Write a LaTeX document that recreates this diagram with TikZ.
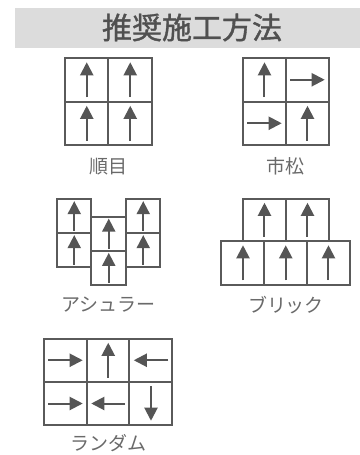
\documentclass[tikz,border=0pt]{standalone}
\usepackage{fontspec}
\newfontfamily\cjk{Noto Sans CJK JP}
\newfontfamily\cjktitle{Noto Sans CJK JP}[FakeBold=1.2]
\usetikzlibrary{arrows.meta,fit}
\definecolor{barbg}{HTML}{DCDCDC}
\definecolor{titlec}{HTML}{505050}
\definecolor{linec}{HTML}{5A5A5A}
\definecolor{arrc}{HTML}{555555}
\definecolor{labc}{HTML}{6A6A6A}
\tikzset{
  tilebox/.style={draw=linec, line width=1.5pt, inner sep=0pt, outer sep=0pt},
  tilearrow/.style={draw=arrc, line width=1.5pt, -{Triangle[width=9.75pt,length=9.75pt]}, fill=arrc},
  caption/.style={text=labc, font=\cjk\fontsize{14.25pt}{16pt}\selectfont, inner sep=0pt},
  titletext/.style={text=titlec, font=\cjktitle\fontsize{22.5pt}{24pt}\selectfont, inner sep=0pt}
}
\newcommand\tile[5]{\node[tilebox, fit={(#2,#3) (#4,#5)}] (#1) {};}
\newcommand\arrU[2]{\draw[tilearrow] ([yshift=#2]#1.south) -- ([yshift=-#2]#1.north);}
\newcommand\arrD[2]{\draw[tilearrow] ([yshift=-#2]#1.north) -- ([yshift=#2]#1.south);}
\newcommand\arrR[2]{\draw[tilearrow] ([xshift=#2]#1.west) -- ([xshift=-#2]#1.east);}
\newcommand\arrL[2]{\draw[tilearrow] ([xshift=-#2]#1.east) -- ([xshift=#2]#1.west);}
\begin{document}
\begin{tikzpicture}[x=0.75pt,y=-0.75pt]
\useasboundingbox (0,0) rectangle (360,455);
% header
\fill[barbg] (15,8) rectangle (360,47.5);
\node[titletext] (title) at (192,27.5) {推奨施工方法};
% grid 1: 順目
\tile{a1}{65}{58}{108.5}{101.5}
\tile{a2}{108.5}{58}{152}{101.5}
\tile{a3}{65}{101.5}{108.5}{145}
\tile{a4}{108.5}{101.5}{152}{145}
\arrU{a1}{3.2pt}\arrU{a2}{3.2pt}\arrU{a3}{3.2pt}\arrU{a4}{3.2pt}
\node[caption] (l1) at (108.5,166.5) {順目};
% grid 2: 市松
\tile{b1}{243}{58}{286}{101.5}
\tile{b2}{286}{58}{329}{101.5}
\tile{b3}{243}{101.5}{286}{145}
\tile{b4}{286}{101.5}{329}{145}
\arrU{b1}{3.2pt}\arrR{b2}{3.2pt}\arrR{b3}{3.2pt}\arrU{b4}{3.2pt}
\node[caption] (l2) at (286,166.5) {市松};
% grid 3: アシュラー
\tile{c1}{57}{199}{91.5}{233}
\tile{c2}{57}{233}{91.5}{267}
\tile{c3}{91.5}{216.5}{126}{250.75}
\tile{c4}{91.5}{250.75}{126}{285}
\tile{c5}{126}{199}{160.5}{233}
\tile{c6}{126}{233}{160.5}{267}
\arrU{c1}{1.6pt}\arrU{c2}{1.6pt}\arrU{c3}{1.6pt}\arrU{c4}{1.6pt}\arrU{c5}{1.6pt}\arrU{c6}{1.6pt}
\node[caption] (l3) at (108.5,305) {アシュラー};
% grid 4: ブリック
\tile{d1}{243}{198.5}{286}{241}
\tile{d2}{286}{198.5}{329}{241}
\tile{d3}{221.5}{241}{264.5}{284.5}
\tile{d4}{264.5}{241}{307}{284.5}
\tile{d5}{307}{241}{350}{284.5}
\arrU{d1}{3.2pt}\arrU{d2}{3.2pt}\arrU{d3}{3.2pt}\arrU{d4}{3.2pt}\arrU{d5}{3.2pt}
\node[caption] (l4) at (286,305) {ブリック};
% grid 5: ランダム
\tile{e1}{44}{338.5}{87}{382}
\tile{e2}{87}{338.5}{129.5}{382}
\tile{e3}{129.5}{338.5}{172.5}{382}
\tile{e4}{44}{382}{87}{425}
\tile{e5}{87}{382}{129.5}{425}
\tile{e6}{129.5}{382}{172.5}{425}
\arrR{e1}{3.2pt}\arrU{e2}{3.2pt}\arrL{e3}{3.2pt}
\arrR{e4}{3.2pt}\arrL{e5}{3.2pt}\arrD{e6}{3.2pt}
\node[caption] (l5) at (108.5,443.5) {ランダム};
\end{tikzpicture}
\end{document}
